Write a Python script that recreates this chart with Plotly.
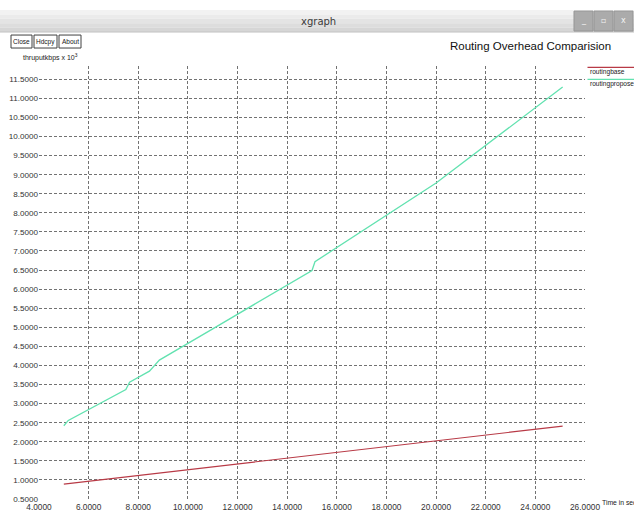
import plotly.graph_objects as go

# Series data (time in seconds, throughput in kbps x 10^3)
time_base = [5.0, 10.0, 15.0, 20.0, 25.1]
routing_base = [0.89, 1.27, 1.65, 2.02, 2.41]

time_propose = [5.0, 5.18, 7.5, 7.65, 8.45, 8.85, 11.0, 15.0, 15.12, 20.0, 25.1]
routing_propose = [2.42, 2.56, 3.37, 3.56, 3.85, 4.14, 4.96, 6.49, 6.72, 8.78, 11.3]

series_names = ["routingbase", "routingpropose"]
series_colors = ["#b83a46", "#62e2b0"]

title_text = "Routing Overhead Comparision"
y_title = "thruputkbps x 10<sup>3</sup>"
x_title = "Time in seconds"
window_title = "xgraph"
buttons = ["Close", "Hdcpy", "About"]

W, H = 634, 515
L, R, T, B = 39, 585, 66, 499.5

SANS = "Liberation Sans, Arial, sans-serif"


def px(x):
    return (x - L) / (R - L)


def py(y):
    return (B - y) / (B - T)


fig = go.Figure()
fig.add_trace(go.Scatter(x=time_base, y=routing_base, mode="lines",
                         name=series_names[0], showlegend=False,
                         line=dict(color=series_colors[0], width=1.2)))
fig.add_trace(go.Scatter(x=time_propose, y=routing_propose, mode="lines",
                         name=series_names[1], showlegend=False,
                         line=dict(color=series_colors[1], width=1.3)))

shapes = []
annotations = []

# window title bar with a soft vertical gradient
bar_cols = ["#f2f2f2", "#ebebeb", "#e4e4e4", "#dddddd", "#d6d6d6"]
top, bot = 10, 32
step = (bot - top) / len(bar_cols)
for i, c in enumerate(bar_cols):
    shapes.append(dict(type="rect", xref="paper", yref="paper",
                       x0=px(0), x1=px(W), y0=py(top + (i + 1) * step), y1=py(top + i * step),
                       fillcolor=c, line=dict(width=0), layer="above"))
shapes.append(dict(type="line", xref="paper", yref="paper",
                   x0=px(0), x1=px(W), y0=py(32), y1=py(32),
                   line=dict(color="#c4c4c4", width=1), layer="above"))
# window control buttons
for i, g in enumerate(["_", "\u25ab", "x"]):
    x0 = 574 + i * 20
    shapes.append(dict(type="rect", xref="paper", yref="paper",
                       x0=px(x0), x1=px(x0 + 19), y0=py(31), y1=py(11),
                       fillcolor="#ababab", line=dict(color="#959595", width=1), layer="above"))
    annotations.append(dict(text=g, xref="paper", yref="paper", x=px(x0 + 9.5), y=py(20.5),
                            showarrow=False, xanchor="center", yanchor="middle",
                            font=dict(family="DejaVu Sans", size=8, color="#f4f4f4")))
annotations.append(dict(text=window_title, xref="paper", yref="paper", x=px(318), y=py(21),
                        showarrow=False, xanchor="center", yanchor="middle",
                        font=dict(family="DejaVu Sans", size=10, color="#3a3a3a")))

# xgraph command buttons
btn_x = [(11, 32), (34, 57), (59, 81)]
for (a, b), label in zip(btn_x, buttons):
    shapes.append(dict(type="rect", xref="paper", yref="paper",
                       x0=px(a), x1=px(b), y0=py(48), y1=py(35),
                       fillcolor="white", line=dict(color="#404040", width=1), layer="above"))
    annotations.append(dict(text=label, xref="paper", yref="paper", x=px((a + b) / 2), y=py(41.5),
                            showarrow=False, xanchor="center", yanchor="middle",
                            font=dict(family=SANS, size=6.5, color="#202020")))

# chart title and axis titles
annotations.append(dict(text=title_text, xref="paper", yref="paper", x=px(530), y=py(45.5),
                        showarrow=False, xanchor="center", yanchor="middle",
                        font=dict(family=SANS, size=11.5, color="#111111")))
annotations.append(dict(text=y_title, xref="paper", yref="paper", x=px(21), y=py(57),
                        showarrow=False, xanchor="left", yanchor="middle",
                        font=dict(family=SANS, size=7, color="#222222")))
annotations.append(dict(text=x_title, xref="paper", yref="paper", x=px(600), y=py(503),
                        showarrow=False, xanchor="left", yanchor="middle",
                        font=dict(family=SANS, size=6.8, color="#222222")))

# legend swatches and labels
for i, (nm, col) in enumerate(zip(series_names, series_colors)):
    yl = 67.3 + 12 * i
    shapes.append(dict(type="line", xref="paper", yref="paper",
                       x0=px(587.5), x1=px(W + 5), y0=py(yl), y1=py(yl),
                       line=dict(color=col, width=1.3), layer="above"))
    annotations.append(dict(text=nm, xref="paper", yref="paper", x=px(588), y=py(yl + 5),
                            showarrow=False, xanchor="left", yanchor="middle",
                            font=dict(family=SANS, size=6.6, color="#222222")))

grid = dict(showgrid=True, gridcolor="#727272", griddash="3px,2px", gridwidth=1,
            zeroline=False, showline=False, ticks="", tickformat=".4f")

fig.update_layout(
    width=W, height=H,
    margin=dict(l=L, r=W - R, t=T, b=H - B, pad=0, autoexpand=False),
    paper_bgcolor="white", plot_bgcolor="white",
    showlegend=False,
    xaxis=dict(range=[4, 26], tick0=4, dtick=2, fixedrange=True, ticklabelstandoff=2,
               tickfont=dict(family=SANS, size=8.3, color="#333333"), **grid),
    yaxis=dict(range=[0.5, 0.5 + (B - T) / 38.2], tick0=0.5, dtick=0.5, fixedrange=True,
               tickfont=dict(family=SANS, size=8.1, color="#333333"), **grid),
    shapes=shapes,
    annotations=annotations,
)

fig.write_html("out.html")
